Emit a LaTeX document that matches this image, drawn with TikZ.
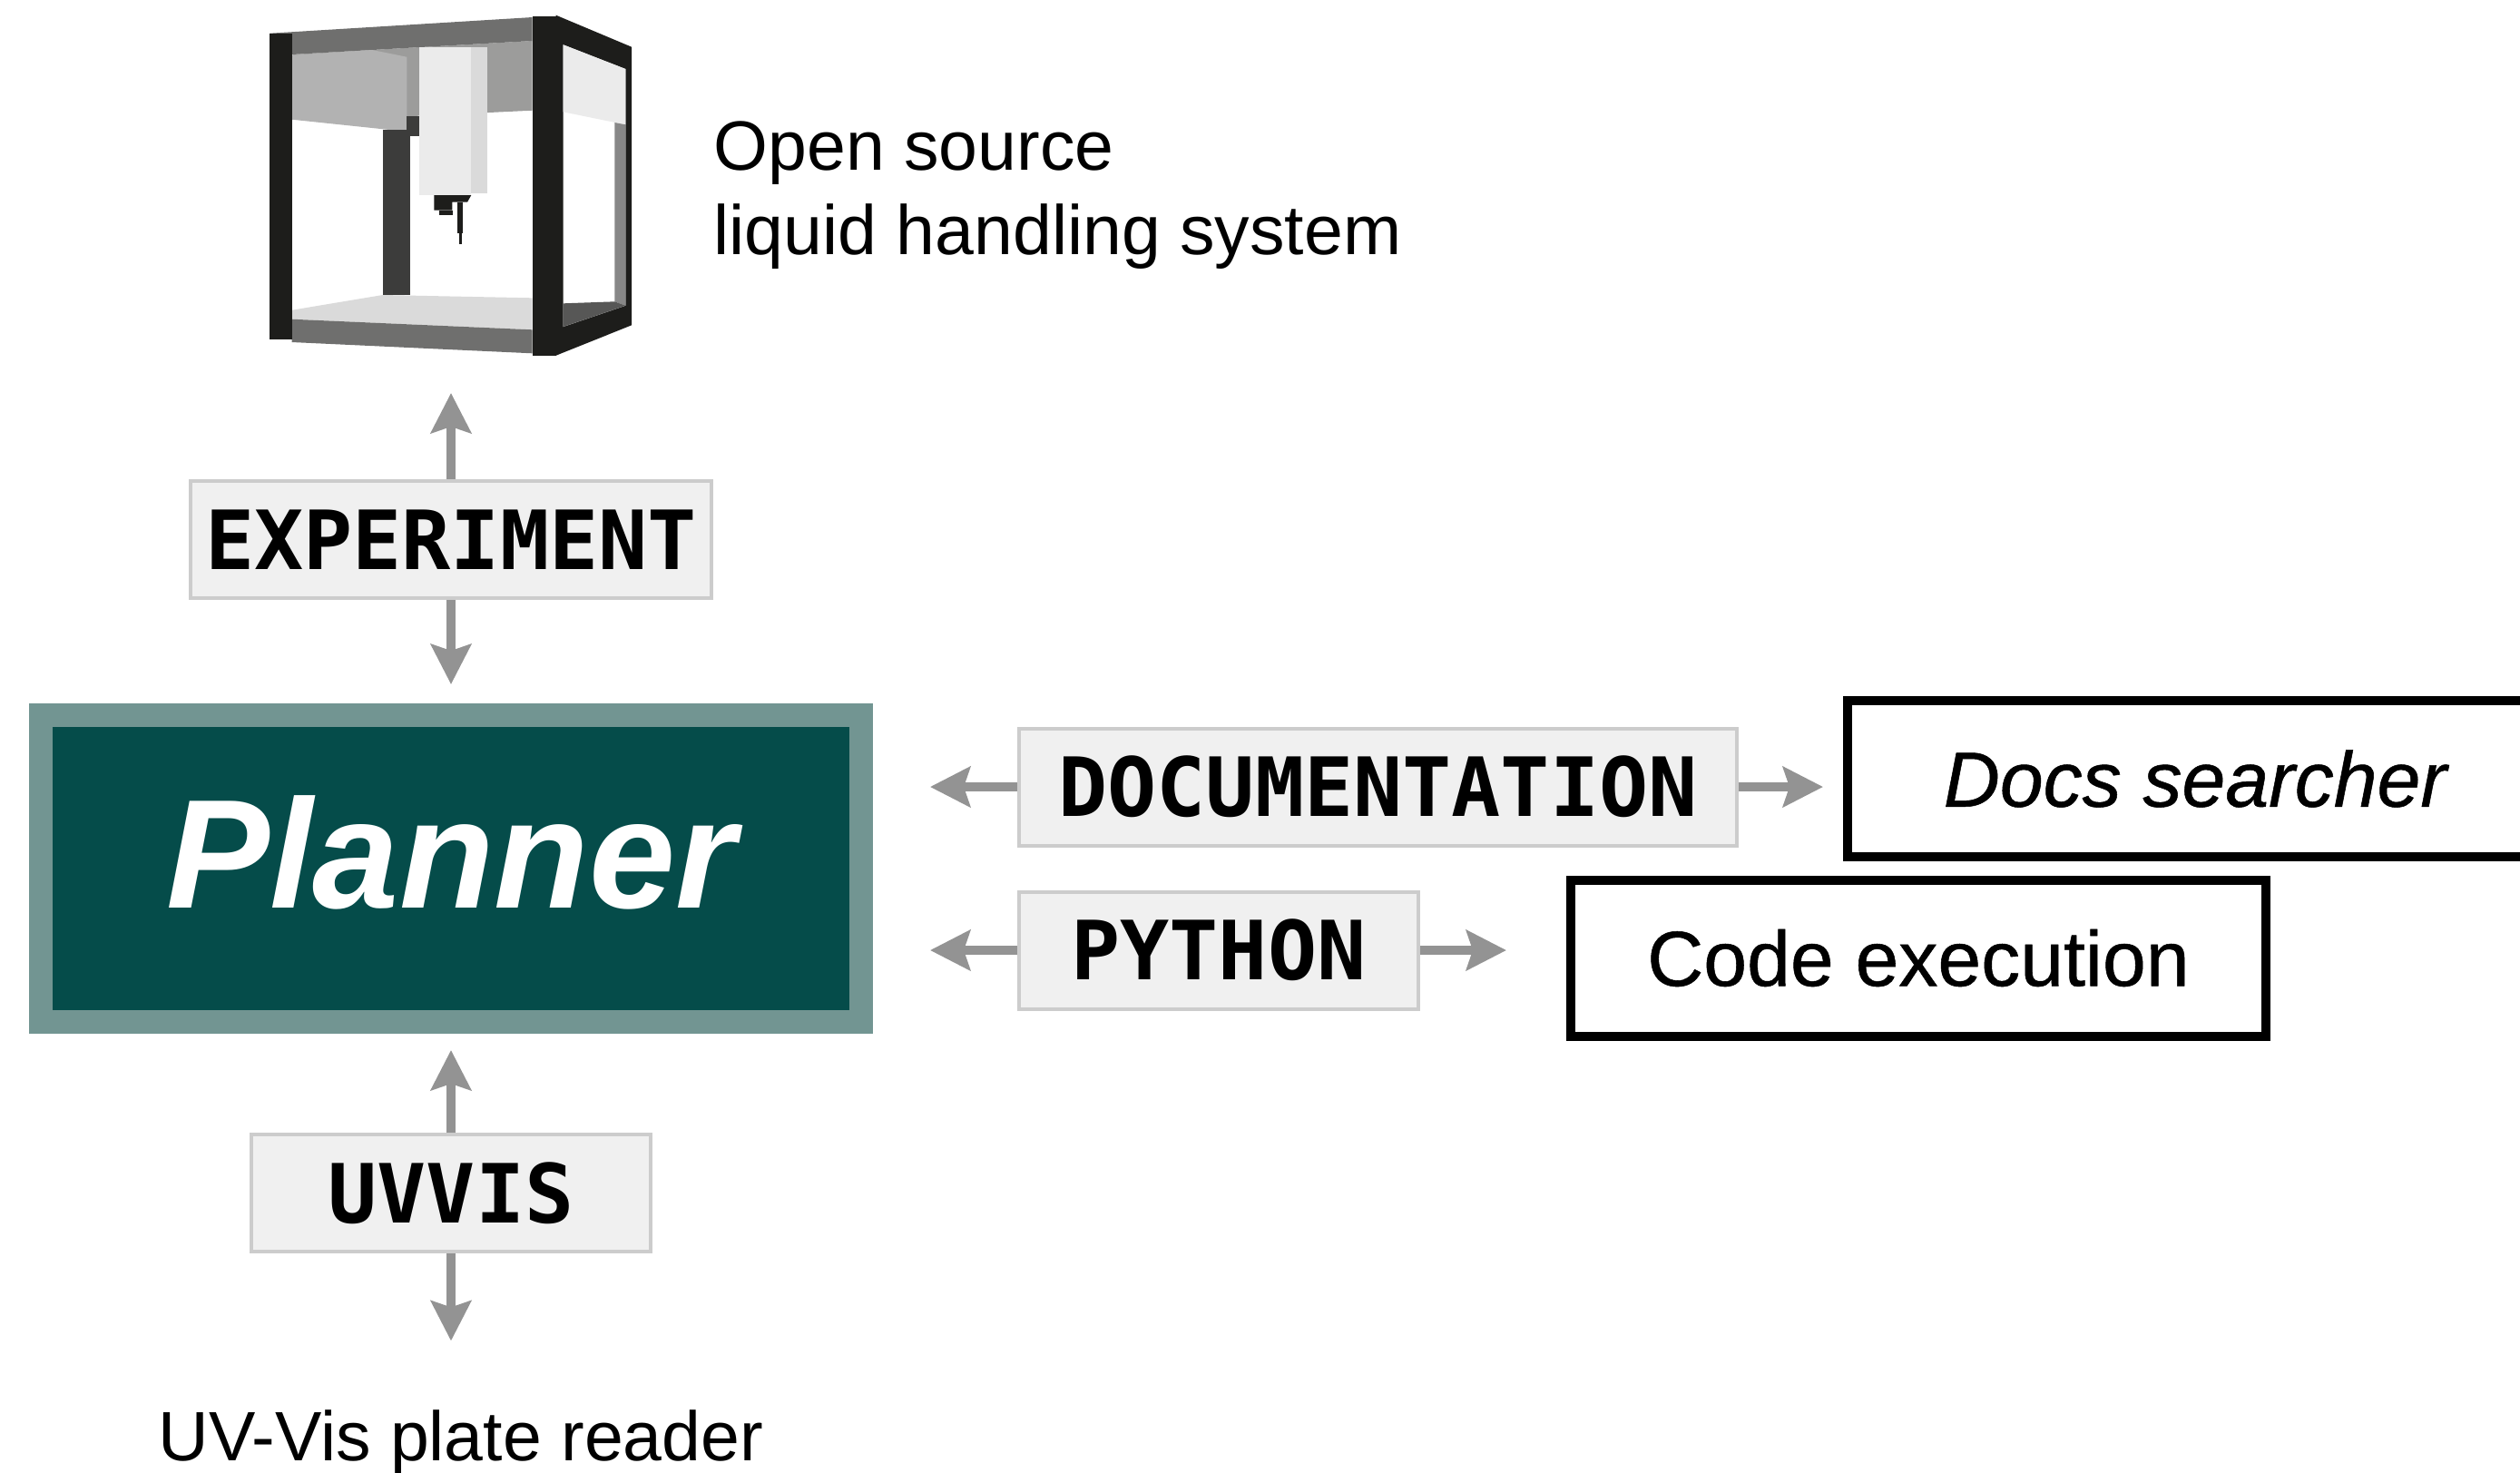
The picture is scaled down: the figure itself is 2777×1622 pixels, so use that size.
\documentclass[tikz,border=0pt]{standalone}
\usepackage{fontspec}
\usepackage{xcolor}
\usetikzlibrary{arrows.meta}
\setmainfont{Liberation Sans}
\newfontfamily\tagfont{DejaVu Sans Mono}
\newfontfamily\toolfont[FakeBold=0.6]{Liberation Sans}

\definecolor{plannerfill}{HTML}{054C4A}
\definecolor{planneredge}{HTML}{729592}
\definecolor{tagfill}{HTML}{F0F0F0}
\definecolor{tagedge}{HTML}{CCCCCC}
\definecolor{linkgray}{HTML}{939393}
% liquid handler greys
\definecolor{frameblack}{HTML}{1D1D1B}
\definecolor{beamgray}{HTML}{6F6F6E}
\definecolor{panelgray}{HTML}{B2B2B2}
\definecolor{backgray}{HTML}{9C9C9B}
\definecolor{postgray}{HTML}{3C3C3B}
\definecolor{headwhite}{HTML}{EBEBEB}
\definecolor{headside}{HTML}{DADADA}
\definecolor{stripgray}{HTML}{878787}
\definecolor{basegray}{HTML}{575756}

\begin{document}
\begin{tikzpicture}[x=0.25pt,y=0.25pt,yscale=-1,xscale=1,
    planner/.style={draw=planneredge, line width=6.5pt, fill=plannerfill, text=white,
        minimum width=226pt, minimum height=84.5pt, inner sep=0pt,
        text height=31.25pt, text depth=9.75pt,
        font=\bfseries\itshape\fontsize{42.75pt}{50pt}\selectfont},
    tag/.style={draw=tagedge, fill=tagfill, line width=1pt, minimum height=32.25pt, inner sep=0pt,
        font=\tagfont\bfseries\fontsize{22.5pt}{26pt}\selectfont},
    toolbox/.style={draw=black, line width=2.5pt, minimum width=191.5pt, minimum height=43pt, inner sep=0pt},
    link/.style={draw=linkgray, line width=2.5pt, -{Stealth[length=11pt,width=11pt,inset=1.75pt]}},
    caption/.style={anchor=base west, inner sep=0pt, font=\fontsize{19.25pt}{23pt}\selectfont}
]
\useasboundingbox (0,0) rectangle (2777,1622);
\clip (0,0) rectangle (2777,1622);

%Shape: liquid handler, back parts
\fill[backgray] (321.7,60) -- (586.7,45) -- (586.7,121.7) -- (448.3,128.3) -- cycle;
\fill[beamgray] (297.3,36.7) -- (586.7,19) -- (586.7,45) -- (321.7,60) -- cycle;
\fill[panelgray] (321.7,60.7) -- (410,55) -- (448.3,62.7) -- (448.3,145) -- (321.7,131.7) -- cycle;
\fill[postgray] (421.7,143.3) rectangle (451.7,325);
\fill[postgray] (448.3,128.3) rectangle (461.7,150);
%Shape: floor and lower beam
\fill[headside] (321.7,341.7) -- (421.7,325) -- (586.7,328.3) -- (586.7,363.3) -- (321.7,351.7) -- cycle;
\fill[beamgray] (321.7,351.7) -- (586.7,363.3) -- (586.7,389.3) -- (321.7,377) -- cycle;
%Shape: pipetting head
\fill[headwhite] (461.7,51.7) rectangle (519.3,215);
\fill[headside] (519.3,51.7) rectangle (536.7,213.3);
\fill[frameblack] (478.3,215) -- (519.3,215) -- (515,222.7) -- (498.3,222.7) -- (498.3,231.7) -- (478.3,231.7) -- cycle;
\fill[frameblack] (484,231.7) rectangle (499.3,237.3);
\fill[frameblack] (504,222.7) rectangle (510,256.7);
\fill[frameblack] (506,256.7) rectangle (508.7,269.3);
%Shape: front posts
\fill[frameblack] (297.3,36.7) rectangle (321.7,374.3);
\fill[frameblack] (586.7,18.3) rectangle (613.3,391.7);
%Shape: side frame with window
\fill[frameblack] (612.7,16.7) -- (696,51.7) -- (696,358.3) -- (612.7,391.7) -- cycle;
\fill[white] (620.7,49.3) -- (689.3,76) -- (689.3,336.7) -- (620.7,360) -- cycle;
\fill[headwhite] (620.7,49.3) -- (689.3,76) -- (689.3,137.3) -- (620.7,123.3) -- cycle;
\fill[stripgray] (677.3,135) -- (689.3,137.3) -- (689.3,336.7) -- (677.3,332.3) -- cycle;
\fill[basegray] (620.7,334.3) -- (677.3,332.3) -- (689.3,336.7) -- (620.7,360) -- cycle;
\coordinate (rig) at (497,392);

% Text Node
\node[caption] (rigtop) at (786,187) {Open source};
% Text Node
\node[caption] (rigbot) at (786,280) {liquid handling system};
% Text Node
\node[caption] (reader) at (174,1609) {UV-Vis plate reader};

%Planner
\node[planner] (plan) at (497,957) {Planner};

%Message tags
\node[tag, minimum width=143.5pt] (exp) at (497,594.5) {EXPERIMENT};
\node[tag, minimum width=197.75pt] (doc) at (1518.5,867) {DOCUMENTATION};
\node[tag, minimum width=110pt] (py) at (1343,1047) {PYTHON};
\node[tag, minimum width=110pt] (uv) at (497,1314.5) {UVVIS};

%Tools
\node[toolbox, font=\toolfont\itshape\fontsize{21.5pt}{26pt}\selectfont] (docs) at (2419,858) {Docs searcher};
\node[toolbox, font=\toolfont\fontsize{21.5pt}{26pt}\selectfont] (code) at (2114,1055.5) {Code execution};

%Arrows
\draw[link, shorten >=10.25pt] (exp.north) -- (rig);
\draw[link, shorten >=5.25pt] (exp.south) -- (plan.north);
\draw[link, shorten >=4.5pt] (uv.north) -- (plan.south);
\draw[link, shorten >=18.75pt] (uv.south) -- (uv.south |- reader.north);
\draw[link, shorten >=15.75pt] (doc.west) -- (doc.west -| plan.east);
\draw[link, shorten >=5.5pt] (doc.east) -- (doc.east -| docs.west);
\draw[link, shorten >=15.75pt] (py.west) -- (py.west -| plan.east);
\draw[link, shorten >=16.5pt] (py.east) -- (py.east -| code.west);

\end{tikzpicture}
\end{document}
